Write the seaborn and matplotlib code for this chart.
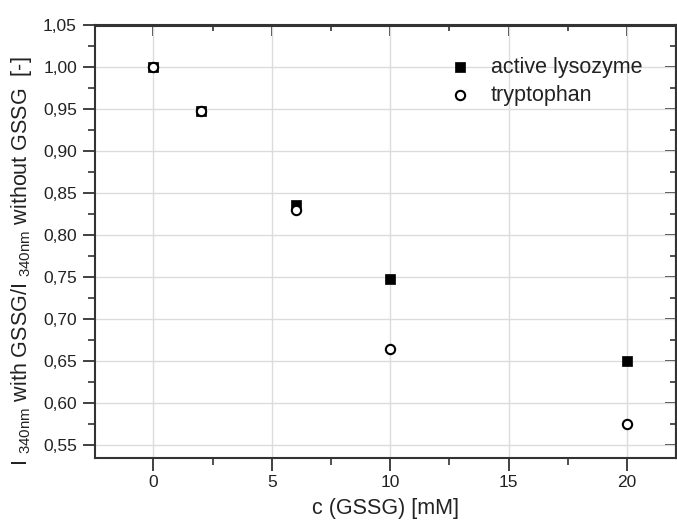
import matplotlib
matplotlib.use("Agg")
import matplotlib.pyplot as plt
import seaborn as sns
import pandas as pd
import numpy as np
from matplotlib.ticker import MultipleLocator, FuncFormatter

# data
conc = [0, 2, 6, 10, 20]
lysozyme = [1.000, 0.948, 0.836, 0.748, 0.650]
tryptophan = [1.000, 0.948, 0.830, 0.665, 0.575]
series_names = ["active lysozyme", "tryptophan"]
x_label = "c (GSSG) [mM]"
y_label = r"I $_{\mathrm{340nm}}$ with GSSG/I $_{\mathrm{340nm}}$ without GSSG  [-]"

sns.set_theme(style="white")
plt.rcParams["font.family"] = ["Liberation Sans", "DejaVu Sans"]
plt.rcParams["mathtext.fontset"] = "custom"
plt.rcParams["mathtext.rm"] = "Liberation Sans"
plt.rcParams["mathtext.it"] = "Liberation Sans:italic"

df_l = pd.DataFrame({"c": conc, "v": lysozyme})
df_t = pd.DataFrame({"c": conc, "v": tryptophan})

fig = plt.figure(figsize=(6.77, 5.23), dpi=100)
ax = fig.add_axes([95/677, 1-458/523, (676-95)/677, (458-25.5)/523])

sns.scatterplot(data=df_l, x="c", y="v", marker="s", color="black", s=55,
                edgecolor="black", linewidth=0.5, ax=ax, label=series_names[0], zorder=3)
sns.scatterplot(data=df_t, x="c", y="v", marker="o", facecolor="white", s=45,
                edgecolor="black", linewidth=1.5, ax=ax, label=series_names[1], zorder=4)

ax.set_xlim(-2.47, 22.07)
ax.set_ylim(0.5345, 1.05)
ax.xaxis.set_major_locator(MultipleLocator(5))
ax.xaxis.set_minor_locator(MultipleLocator(2.5))
ax.yaxis.set_major_locator(MultipleLocator(0.05))
ax.yaxis.set_minor_locator(MultipleLocator(0.025))
ax.yaxis.set_major_formatter(FuncFormatter(lambda v, p: f"{v:.2f}".replace(".", ",")))

ax.grid(True, which="major", color="#dcdcdc", linewidth=1.0)
ax.set_axisbelow(True)

for sp in ax.spines.values():
    sp.set_color("#333333")
    sp.set_linewidth(1.5)
    sp.set_visible(True)

ax.tick_params(axis="both", which="major", direction="out", length=9, width=1.3,
               color="#333333", labelsize=12.5, labelcolor="#222222", pad=4,
               bottom=True, left=True, top=False, right=False)
ax.tick_params(axis="both", which="minor", direction="out", length=5, width=1.2,
               color="#333333", bottom=True, left=True, top=False, right=False)
ax.tick_params(axis="x", pad=3)

# inward ticks on top and right
sec = ax.secondary_xaxis("top")
sec.xaxis.set_major_locator(MultipleLocator(5))
sec.xaxis.set_minor_locator(MultipleLocator(2.5))
sec.tick_params(which="major", direction="in", length=8, width=1.3, color="#333333", labeltop=False)
sec.tick_params(which="minor", direction="in", length=4, width=1.2, color="#333333")
sec.spines["top"].set_linewidth(1.5)
sec.spines["top"].set_color("#333333")
secy = ax.secondary_yaxis("right")
secy.yaxis.set_major_locator(MultipleLocator(0.05))
secy.yaxis.set_minor_locator(MultipleLocator(0.025))
secy.tick_params(which="major", direction="in", length=8, width=1.3, color="#333333", labelright=False)
secy.tick_params(which="minor", direction="in", length=4, width=1.2, color="#333333")
secy.spines["right"].set_linewidth(1.5)
secy.spines["right"].set_color("#333333")

ax.set_xlabel(x_label, fontsize=15.5, color="#222222", labelpad=6)
ax.set_ylabel(y_label, fontsize=15.5, color="#222222")
ax.yaxis.set_label_coords(-0.105, 0.455)

leg = ax.legend(loc="upper left", bbox_to_anchor=(0.6, 0.927), frameon=False,
                fontsize=15.5, handletextpad=0.7, labelspacing=0.3, borderpad=0,
                handlelength=1.5, borderaxespad=0)
for t in leg.get_texts():
    t.set_color("#222222")

fig.savefig("out.png", dpi=100)
